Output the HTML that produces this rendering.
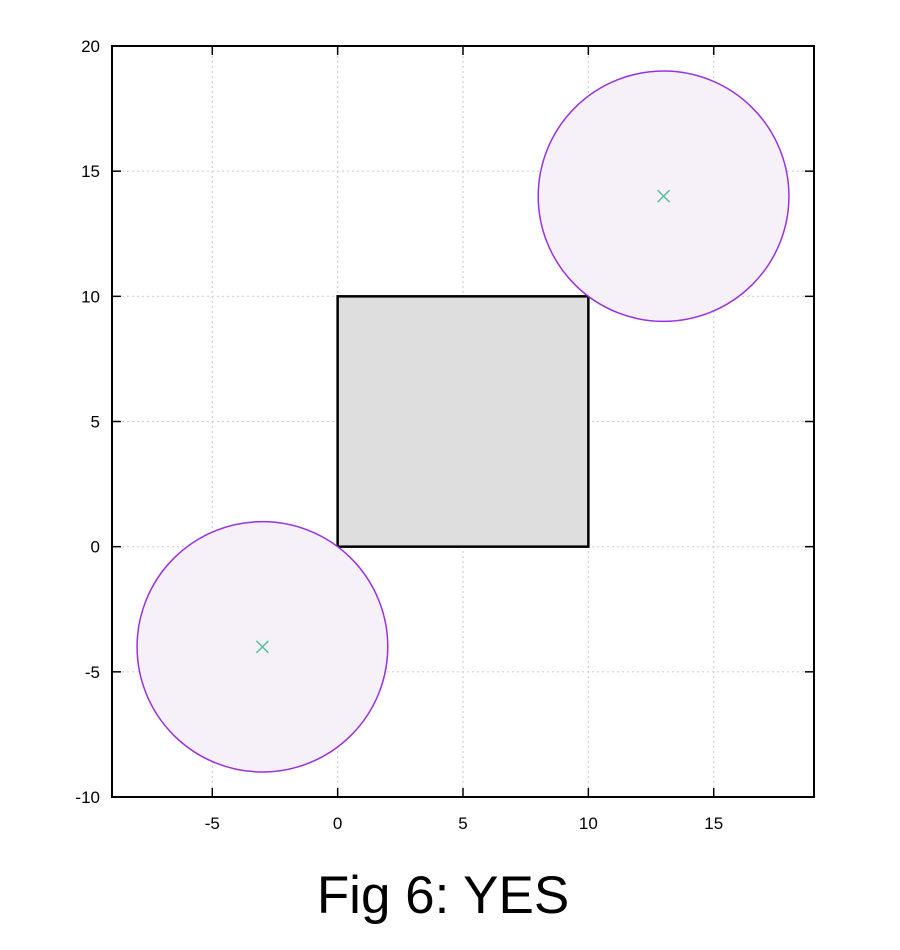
<!DOCTYPE html>
<html><head><meta charset="utf-8"><style>
html,body{margin:0;padding:0;background:#fff;width:900px;height:950px;overflow:hidden}
svg text{font-family:"Liberation Sans","DejaVu Sans",sans-serif}
</style></head><body>
<svg id="chart" width="900" height="950" xmlns="http://www.w3.org/2000/svg"></svg>
<script>
const xTicks=[-5,0,5,10,15];
const yTicks=[-10,-5,0,5,10,15,20];
const circleCx=[-3,13];
const circleCy=[-4,14];
const circleR=[5,5];
const rectX=[0,10];
const rectY=[0,10];
const xMin=-9,xMax=19,yMin=-10,yMax=20;
const L=112,R=814,T=46,B=797;
const sx=v=>L+(v-xMin)/(xMax-xMin)*(R-L);
const sy=v=>B-(v-yMin)/(yMax-yMin)*(B-T);
const svg=document.getElementById('chart');
const NS='http://www.w3.org/2000/svg';
function mk(t,a,p){const e=document.createElementNS(NS,t);for(const k in a)e.setAttribute(k,a[k]);(p||svg).appendChild(e);return e;}
xTicks.forEach(v=>{
const g=mk('line',{x1:sx(v),x2:sx(v),y1:T,y2:B,stroke:'#d0d0d0','stroke-width':1.2,'stroke-dasharray':'2,3'});


});
yTicks.forEach(v=>{
const g=mk('line',{x1:L,x2:R,y1:sy(v),y2:sy(v),stroke:'#d0d0d0','stroke-width':1.2,'stroke-dasharray':'2,3'});


});
const rc=mk('rect',{x:sx(rectX[0]),y:sy(rectY[1]),width:sx(rectX[1])-sx(rectX[0]),height:sy(rectY[0])-sy(rectY[1]),fill:'#dedede',stroke:'#000','stroke-width':2.5});


circleCx.forEach((cx,i)=>{
const c=mk('ellipse',{cx:sx(cx),cy:sy(circleCy[i]),rx:sx(circleR[i])-sx(0),ry:sy(0)-sy(circleR[i]),fill:'#f6f0f9',stroke:'#9a30e0','stroke-width':1.5});


const X=sx(cx),Y=sy(circleCy[i]),d=6;
const m=mk('path',{d:`M${X-d},${Y-d}L${X+d},${Y+d}M${X-d},${Y+d}L${X+d},${Y-d}`,stroke:'#5fbf9f','stroke-width':1.5,fill:'none'});


});
const bd=mk('rect',{x:L,y:T,width:R-L,height:B-T,fill:'none',stroke:'#000','stroke-width':2});


xTicks.forEach(v=>{
mk('line',{x1:sx(v),x2:sx(v),y1:B,y2:B-9,stroke:'#000','stroke-width':1.5});
mk('line',{x1:sx(v),x2:sx(v),y1:T,y2:T+9,stroke:'#000','stroke-width':1.5});
const t=mk('text',{x:sx(v),y:B+32,'text-anchor':'middle','font-size':17,fill:'#000'});
t.textContent=v;


});
yTicks.forEach(v=>{
mk('line',{x1:L,x2:L+9,y1:sy(v),y2:sy(v),stroke:'#000','stroke-width':1.5});
mk('line',{x1:R,x2:R-9,y1:sy(v),y2:sy(v),stroke:'#000','stroke-width':1.5});
const t=mk('text',{x:L-12,y:sy(v)+6,'text-anchor':'end','font-size':17,fill:'#000'});
t.textContent=v;


});
const cap=mk('text',{x:443,y:913,'text-anchor':'middle','font-size':53,fill:'#000'});
cap.textContent='Fig 6: YES';


</script>
</body></html>
